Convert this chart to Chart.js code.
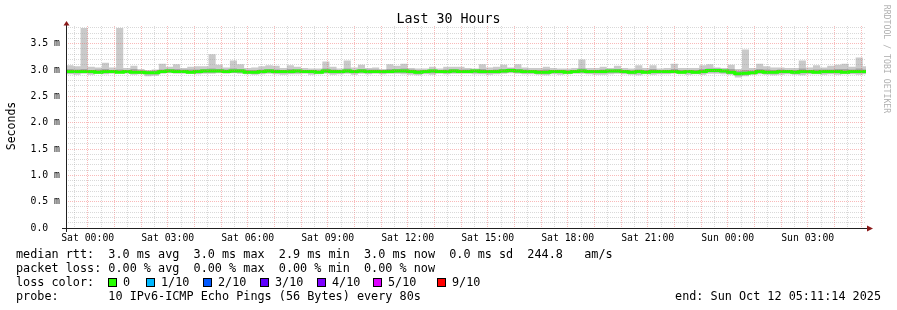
<!DOCTYPE html>
<html><head><meta charset="utf-8">
<script src="https://cdn.jsdelivr.net/npm/chart.js@4"></script>
<style>
html,body{margin:0;padding:0;background:#fff;}
#wrap{position:relative;width:897px;height:310px;overflow:hidden;font-family:"DejaVu Sans Mono",monospace;color:#000;background:#fff;}
canvas{position:absolute;left:0;top:0;}
.t{position:absolute;white-space:pre;line-height:14px;font-size:11.8px;}
.box{position:absolute;width:9px;height:9px;box-sizing:border-box;border:1px solid #000;}
</style></head><body>
<div id="wrap">
<canvas id="c" width="897" height="310" style="width:897px;height:310px"></canvas>
<div class="t" style="left:0;top:12px;width:897px;text-align:center;font-size:13.3px;">Last 30 Hours</div>
<div class="t" style="left:-14px;top:119px;width:50px;text-align:center;font-size:11.5px;transform:rotate(-90deg);">Seconds</div>
<div class="t" style="left:832px;top:54px;width:110px;text-align:center;font-size:8.2px;line-height:10px;color:#b0b0b0;transform:rotate(90deg);">RRDTOOL / TOBI OETIKER</div>
<div class="t" style="left:16px;top:247px;">median rtt:  3.0 ms avg  3.0 ms max  2.9 ms min  3.0 ms now  0.0 ms sd  244.8   am/s</div>
<div class="t" style="left:16px;top:261px;">packet loss: 0.00 % avg  0.00 % max  0.00 % min  0.00 % now</div>
<div class="t" style="left:16px;top:275px;">loss color:</div>
<div class="t" style="left:16px;top:289px;">probe:       10 IPv6-ICMP Echo Pings (56 Bytes) every 80s</div>
<div class="t" style="right:16px;top:289px;">end: Sun Oct 12 05:11:14 2025</div>
</div>
<script>
// ---- data (milliseconds) : one value per 16-minute step ----
const START_H = -0.8128;   // Fri 23:11:14 relative to Sat 00:00
const END_H = 29.1872;     // Sun 05:11:14
const STEP0_H = -0.8;      // first consolidation step start
const STEP_H = 16/60;

const smokeHi = [3.09,3.07,3.80,3.06,3.05,3.14,3.05,3.80,3.04,3.08,3.02,3.00,3.01,3.12,3.06,3.11,3.04,3.06,3.07,3.07,3.30,3.10,3.05,3.18,3.11,3.04,3.05,3.07,
3.09,3.08,3.04,3.09,3.06,3.04,3.03,3.03,3.16,3.06,3.03,3.18,3.05,3.10,3.04,3.05,3.02,3.11,3.08,3.12,3.04,3.03,3.03,3.06,3.03,3.06,3.06,3.06,
3.04,3.03,3.11,3.05,3.06,3.10,3.05,3.11,3.05,3.04,3.04,3.06,3.04,3.03,3.03,3.04,3.20,3.04,3.04,3.06,3.04,3.08,3.04,3.03,3.09,3.04,3.09,3.03,
3.04,3.12,3.04,3.04,3.04,3.09,3.11,3.05,3.04,3.10,3.02,3.39,3.04,3.12,3.07,3.05,3.05,3.04,3.04,3.18,3.05,3.09,3.05,3.08,3.10,3.12,3.06,3.24,3.07];
const smokeMidHi = [3.02,3.01,3.02,3.00,3.01,3.02,3.00,3.01,3.00,3.02,2.99,2.98,2.99,3.01,3.02,3.02,3.01,3.01,3.01,3.02,3.03,3.02,3.01,3.03,3.02,3.00,3.00,3.01,
3.02,3.01,3.00,3.02,3.01,3.00,3.00,2.99,3.03,3.01,3.00,3.03,3.00,3.02,3.01,3.01,3.00,3.02,3.02,3.03,3.01,3.00,3.00,3.01,3.00,3.01,3.02,3.01,
3.01,3.01,3.02,3.00,3.01,3.02,3.03,3.02,3.01,3.00,3.00,3.01,3.00,3.00,2.99,3.00,3.03,3.00,3.00,3.01,3.01,3.02,3.00,2.99,3.01,3.00,3.02,3.00,
3.00,3.02,3.00,3.00,3.00,3.02,3.03,3.03,3.01,3.02,2.98,3.00,2.99,3.02,3.01,3.00,3.01,3.00,3.00,3.03,3.00,3.01,3.01,3.01,3.02,3.02,3.01,3.03,3.01];
const medianRtt = [2.97,2.97,2.97,2.97,2.96,2.97,2.97,2.96,2.97,2.96,2.96,2.95,2.95,2.97,2.98,2.97,2.97,2.96,2.97,2.98,2.98,2.98,2.97,2.98,2.98,2.96,2.96,2.97,
2.98,2.97,2.97,2.97,2.98,2.97,2.97,2.96,2.98,2.97,2.97,2.98,2.97,2.98,2.97,2.97,2.97,2.97,2.98,2.98,2.97,2.96,2.97,2.98,2.97,2.97,2.98,2.97,
2.97,2.98,2.97,2.97,2.97,2.98,2.99,2.98,2.97,2.97,2.96,2.96,2.97,2.97,2.96,2.97,2.98,2.97,2.97,2.97,2.98,2.98,2.97,2.96,2.97,2.96,2.97,2.97,
2.97,2.97,2.96,2.97,2.96,2.97,2.99,2.99,2.98,2.96,2.93,2.94,2.95,2.97,2.96,2.96,2.97,2.97,2.96,2.97,2.97,2.96,2.97,2.97,2.97,2.96,2.97,2.97,2.97];
const smokeMidLo = [2.94,2.94,2.95,2.94,2.94,2.94,2.95,2.95,2.95,2.94,2.93,2.92,2.92,2.95,2.96,2.95,2.95,2.94,2.94,2.95,2.95,2.96,2.95,2.95,2.95,2.94,2.93,2.94,
2.95,2.94,2.94,2.94,2.95,2.95,2.94,2.94,2.95,2.94,2.94,2.95,2.94,2.95,2.94,2.95,2.94,2.95,2.95,2.95,2.94,2.93,2.94,2.94,2.95,2.94,2.95,2.95,
2.95,2.95,2.94,2.94,2.94,2.95,2.96,2.95,2.94,2.94,2.93,2.93,2.94,2.94,2.94,2.95,2.95,2.94,2.94,2.94,2.95,2.95,2.94,2.93,2.94,2.94,2.94,2.94,
2.94,2.95,2.94,2.94,2.93,2.94,2.96,2.96,2.95,2.93,2.90,2.91,2.93,2.94,2.93,2.93,2.94,2.94,2.93,2.94,2.94,2.94,2.94,2.94,2.94,2.94,2.94,2.94,2.94];
const smokeLo = [2.92,2.91,2.93,2.91,2.93,2.92,2.93,2.94,2.93,2.91,2.92,2.88,2.89,2.93,2.94,2.93,2.93,2.93,2.92,2.93,2.93,2.94,2.93,2.94,2.93,2.92,2.91,2.92,
2.93,2.92,2.91,2.92,2.92,2.93,2.91,2.92,2.93,2.91,2.92,2.93,2.91,2.93,2.92,2.93,2.92,2.93,2.93,2.92,2.91,2.90,2.92,2.91,2.93,2.92,2.93,2.93,
2.93,2.92,2.92,2.91,2.92,2.93,2.94,2.93,2.92,2.92,2.91,2.90,2.92,2.91,2.92,2.93,2.93,2.92,2.91,2.91,2.92,2.93,2.92,2.91,2.90,2.92,2.91,2.92,
2.92,2.93,2.92,2.91,2.92,2.91,2.93,2.93,2.92,2.91,2.86,2.88,2.91,2.92,2.91,2.90,2.91,2.92,2.91,2.90,2.92,2.92,2.91,2.92,2.91,2.92,2.92,2.91,2.92];

const xLabelHours = [0,3,6,9,12,15,18,21,24,27];
const xLabelTexts = ['Sat 00:00','Sat 03:00','Sat 06:00','Sat 09:00','Sat 12:00','Sat 15:00','Sat 18:00','Sat 21:00','Sun 00:00','Sun 03:00'];
const yLabelValues = [0,0.5,1.0,1.5,2.0,2.5,3.0,3.5];
const yLabelTexts = ['0.0  ','0.5 m','1.0 m','1.5 m','2.0 m','2.5 m','3.0 m','3.5 m'];
const lossLabels = ['0','1/10','2/10','3/10','4/10','5/10','9/10'];
const lossColors = ['#26ff00','#00b8ff','#0059ff','#5e00ff','#7e00ff','#dd00ff','#ff0000'];

// ---- loss color legend boxes ----
const boxX = [108,146,203,260,317,373,437];
const wrap = document.getElementById('wrap');
lossLabels.forEach((l,i)=>{
  const b=document.createElement('div'); b.className='box';
  b.style.left=boxX[i]+'px'; b.style.top='278px'; b.style.background=lossColors[i];
  wrap.appendChild(b);
  const t=document.createElement('div'); t.className='t'; t.textContent=l;
  t.style.left=(boxX[i]+15)+'px'; t.style.top='275px';
  wrap.appendChild(t);
});

function steps(arr){
  const pts = arr.map((v,j)=>({x: Math.max(START_H, STEP0_H + j*STEP_H), y: v}));
  pts.push({x: END_H, y: arr[arr.length-1]});
  return pts;
}
const base = {stepped:true, pointRadius:0, borderWidth:0, borderColor:'transparent', tension:0};

const axesPlugin = {
  id:'rrdAxes',
  afterDraw(chart){
    const {ctx, chartArea:a} = chart;
    ctx.save();
    ctx.strokeStyle='#202020'; ctx.lineWidth=1; ctx.setLineDash([]);
    ctx.beginPath();
    ctx.moveTo(a.left-4, a.bottom+0.5); ctx.lineTo(a.right+4, a.bottom+0.5);
    ctx.moveTo(a.left+0.5, a.bottom+4); ctx.lineTo(a.left+0.5, a.top-3);
    ctx.stroke();
    ctx.fillStyle='#8b1a1a';
    ctx.beginPath();
    ctx.moveTo(a.left-2.5, a.top-0.5); ctx.lineTo(a.left+3.5, a.top-0.5); ctx.lineTo(a.left+0.5, a.top-5); ctx.closePath(); ctx.fill();
    ctx.beginPath();
    ctx.moveTo(a.right+1, a.bottom-2.5); ctx.lineTo(a.right+1, a.bottom+3.5); ctx.lineTo(a.right+7, a.bottom+0.5); ctx.closePath(); ctx.fill();
    ctx.restore();
  }
};

const MAJOR='rgba(240,90,90,0.42)', MINOR='rgba(160,160,160,0.40)';
new Chart(document.getElementById('c'), {
  type:'line',
  data:{datasets:[
    Object.assign({data:steps(smokeLo), fill:false, order:10}, base),
    Object.assign({data:steps(smokeHi), fill:'-1', backgroundColor:'#cacaca', order:9}, base),
    Object.assign({data:steps(smokeMidLo), fill:false, order:8}, base),
    Object.assign({data:steps(smokeMidHi), fill:'-1', backgroundColor:'#a4a4a4', order:7}, base),
    {data:steps(medianRtt), stepped:true, pointRadius:0, borderWidth:3, borderColor:'#22ff00', fill:false, order:1, borderCapStyle:'butt'}
  ]},
  options:{
    responsive:false, animation:false, events:[],
    layout:{padding:{left:0,right:31,top:26,bottom:62}},
    plugins:{legend:{display:false}, tooltip:{enabled:false}, title:{display:false}},
    scales:{
      x:{type:'linear', min:START_H, max:END_H, offset:false,
        afterBuildTicks:s=>{const t=[]; for(let k=-1;k<=58;k++){t.push({value:k/2});} s.ticks=t;},
        afterFit:s=>{s.height=20;},
        grid:{z:1, drawTicks:false, lineWidth:1, color:c=> (c.tick && Number.isInteger(c.tick.value)) ? MAJOR : MINOR},
        border:{display:false, dash:[1,1]},
        ticks:{autoSkip:false, maxRotation:0, minRotation:0, padding:5, color:'#000',
          font:{family:'DejaVu Sans Mono', size:9.8},
          callback:v=>{const i=xLabelHours.indexOf(v); return i>=0?xLabelTexts[i]:'';}}
      },
      y:{min:0, max:3.836,
        afterBuildTicks:s=>{const t=[]; for(let k=0;k<=38;k++){t.push({value:k/10});} s.ticks=t;},
        afterFit:s=>{s.width=66;},
        grid:{z:1, drawTicks:false, lineWidth:1, color:c=> (c.tick && Math.abs(c.tick.value*2-Math.round(c.tick.value*2))<1e-6) ? MAJOR : MINOR},
        border:{display:false, dash:[1,1]},
        ticks:{autoSkip:false, padding:6, color:'#000', font:{family:'DejaVu Sans Mono', size:9.8},
          callback:v=>{const i=yLabelValues.findIndex(y=>Math.abs(y-v)<1e-6); return i>=0?yLabelTexts[i]:'';}}
      }
    }
  },
  plugins:[axesPlugin]
});
</script>
</body></html>
